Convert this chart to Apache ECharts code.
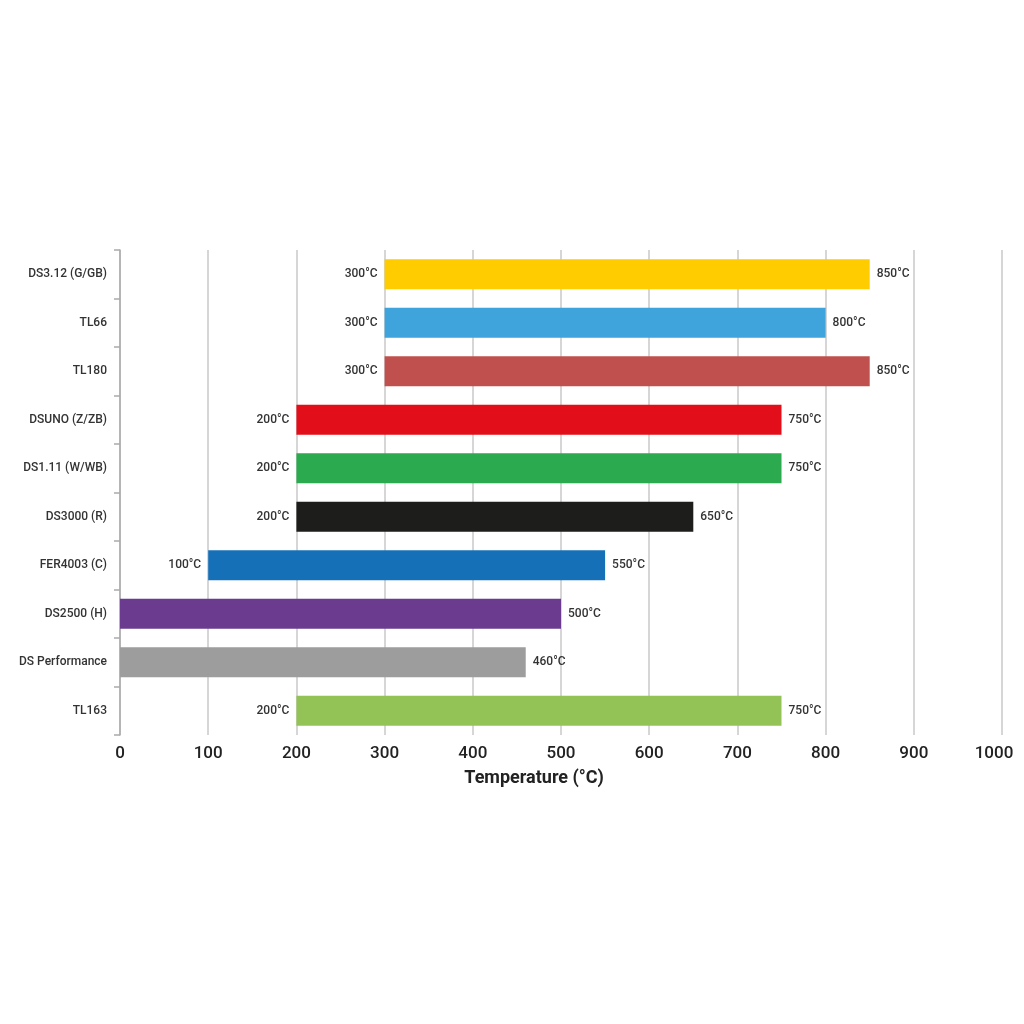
<!DOCTYPE html>
<html>
<head>
<meta charset="UTF-8">
<title>Temperature ranges</title>
<script type="text/javascript" src="https://cdn.jsdelivr.net/npm/echarts@6/dist/echarts.min.js"></script>
<style>
html, body { margin: 0; padding: 0; background: #fff; }
</style>
</head>
<body>
<div id="mychart" style="width:1024px;height:1024px;"></div>

<script type="text/javascript">

var categories = ['DS3.12 (G/GB)', 'TL66', 'TL180', 'DSUNO (Z/ZB)', 'DS1.11 (W/WB)',
                  'DS3000 (R)', 'FER4003 (C)', 'DS2500 (H)', 'DS Performance', 'TL163'];
var minTemps = [300, 300, 300, 200, 200, 200, 100, 0, 0, 200];
var maxTemps = [850, 800, 850, 750, 750, 650, 550, 500, 460, 750];
var barColors = ['#FFCC00', '#3FA3DC', '#C0504D', '#E20E19', '#2BAA4F',
                 '#1D1D1B', '#1570B8', '#6A3B8E', '#9D9D9D', '#93C356'];
var xTicks = [0, 100, 200, 300, 400, 500, 600, 700, 800, 900, 1000];

var labelFont = 'Roboto';

// length of each bar = max - min, stacked on a transparent base
var spans = [];
for (var i = 0; i < categories.length; i++) {
  spans.push({
    value: maxTemps[i] - minTemps[i],
    itemStyle: { color: barColors[i] }
  });
}

var mychart = echarts.init(document.getElementById('mychart'));

var option = {
  animation: false,
  grid: { left: 120, right: 22, top: 250, bottom: 289, containLabel: false },
  xAxis: {
    type: 'value',
    min: 0,
    max: 1000,
    interval: 100,
    name: 'Temperature (°C)',
    nameLocation: 'middle',
    nameGap: 34,
    nameTextStyle: {
      fontFamily: labelFont, fontSize: 18, fontWeight: 'bold', color: '#222',
      padding: [0, 54, 0, 0]
    },
    axisLine: { show: false },
    axisTick: { show: false },
    axisLabel: {
      margin: 10, fontFamily: labelFont, fontSize: 17, fontWeight: 500, color: '#222',
      formatter: function (v) {
        if (xTicks.indexOf(v) < 0) return '';
        // last label sits a little to the left in the original
        return v === 1000 ? '{last|' + v + '}' : String(v);
      },
      rich: {
        last: { fontFamily: labelFont, fontSize: 17, fontWeight: 500, color: '#222', padding: [0, 16, 0, 0] }
      }
    },
    splitLine: { show: true, lineStyle: { color: '#c8c8c8', width: 1.5 } }
  },
  yAxis: {
    type: 'category',
    data: categories,
    inverse: true,
    axisLine: { show: true, lineStyle: { color: '#aaa', width: 1.5 } },
    axisTick: { show: true, length: 6, lineStyle: { color: '#aaa', width: 1.5 } },
    axisLabel: { margin: 13, fontFamily: labelFont, fontSize: 12, fontWeight: 500, color: '#333' }
  },
  series: [
    {
      name: 'min',
      type: 'bar',
      stack: 'range',
      data: minTemps,
      barWidth: 30,
      itemStyle: { color: 'transparent' },
      label: {
        show: true,
        position: 'insideRight',
        distance: 7,
        fontFamily: labelFont, fontSize: 12, fontWeight: 500, color: '#333',
        formatter: function (p) { return p.value > 0 ? p.value + '°C' : ''; }
      },
      silent: true
    },
    {
      name: 'max',
      type: 'bar',
      stack: 'range',
      data: spans,
      barWidth: 30,
      label: {
        show: true,
        position: 'right',
        distance: 7,
        fontFamily: labelFont, fontSize: 12, fontWeight: 500, color: '#333',
        formatter: function (p) { return maxTemps[p.dataIndex] + '°C'; }
      }
    }
  ]
};

mychart.setOption(option);
</script>
</body>
</html>
